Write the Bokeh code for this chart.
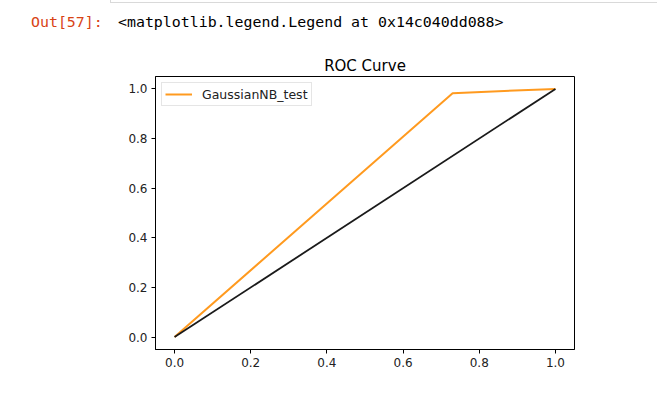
from bokeh.plotting import figure
from bokeh.models import Range1d, FixedTicker, Legend, LegendItem, NumeralTickFormatter, Div
from bokeh.layouts import column
from bokeh.embed import file_html
from bokeh.resources import INLINE

fpr = [0.0, 0.73, 1.0]
tpr = [0.0, 0.983, 1.0]
diag_x = [0.0, 1.0]
diag_y = [0.0, 1.0]
ticks = [0.0, 0.2, 0.4, 0.6, 0.8, 1.0]
series_name = "GaussianNB_test"
prompt_text = "Out[57]:"
output_text = "&lt;matplotlib.legend.Legend at 0x14c040dd088&gt;"

HEADER_H = 46

header = Div(width=657, height=HEADER_H, margin=(0, 0, 0, 0), text=(
    '<div style="position:relative;width:657px;height:%dpx;">'
    '<div style="position:absolute;left:110px;top:-2px;width:560px;height:5px;'
    'border:1px solid #d9d9d9;border-top:none;box-sizing:border-box;"></div>'
    '<span style="position:absolute;left:31px;top:13px;font-family:\'DejaVu Sans Mono\';'
    'font-size:14.9px;color:#d84315;white-space:pre;line-height:18px;">%s</span>'
    '<span style="position:absolute;left:118px;top:13px;font-family:\'DejaVu Sans Mono\';'
    'font-size:14.9px;color:#000000;white-space:pre;line-height:18px;">%s</span>'
    '</div>') % (HEADER_H, prompt_text, output_text))

p = figure(width=657, height=406 - HEADER_H, output_backend="svg", toolbar_location=None,
           x_range=Range1d(-0.05, 1.05), y_range=Range1d(-0.05, 1.05),
           min_border_left=155, min_border_right=83, min_border_top=76 - HEADER_H,
           min_border_bottom=57, title="ROC Curve", margin=(0, 0, 0, 0))
p.title.align = "center"
p.title.text_font = "DejaVu Sans"
p.title.text_font_size = "15px"
p.title.text_font_style = "normal"
p.title.text_color = "#000000"
p.title.standoff = 3

p.xgrid.visible = False
p.ygrid.visible = False
p.outline_line_color = "#000000"
p.outline_line_alpha = 1
p.outline_line_width = 1
p.background_fill_color = "white"
p.border_fill_color = "white"

for ax in (p.xaxis[0], p.yaxis[0]):
    ax.ticker = FixedTicker(ticks=ticks)
    ax.formatter = NumeralTickFormatter(format="0.0")
    ax.major_tick_out = 4
    ax.major_tick_in = 0
    ax.minor_tick_line_color = None
    ax.major_label_text_font = "DejaVu Sans"
    ax.major_label_text_font_size = "12px"
    ax.major_label_text_color = "#222222"
    ax.axis_line_color = "#000000"
    ax.major_tick_line_color = "#000000"
    ax.major_label_standoff = 4

r1 = p.line(fpr, tpr, line_color="#ff9a1f", line_width=2)
r2 = p.line(diag_x, diag_y, line_color="#1a1a1a", line_width=1.8)

legend = Legend(items=[LegendItem(label=series_name, renderers=[r1])],
                location="top_left", label_text_font="DejaVu Sans",
                label_text_font_size="12.5px", label_text_color="#222222",
                border_line_color="#cccccc",
                border_line_width=1, background_fill_alpha=1,
                margin=6, padding=3, spacing=0, glyph_width=27, glyph_height=16,
                label_standoff=10, label_height=16)
p.add_layout(legend)

layout = column(header, p, spacing=0, margin=(0, 0, 0, 0))

open("out.html", "w").write(file_html(layout, INLINE))
